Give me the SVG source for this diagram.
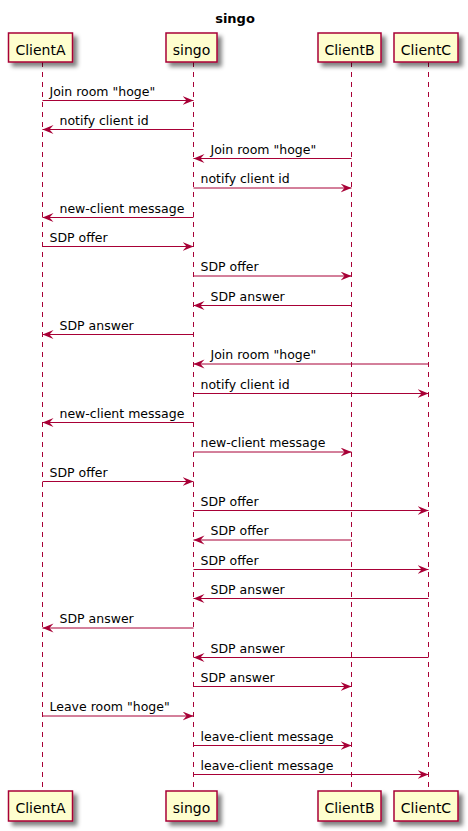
<svg xmlns="http://www.w3.org/2000/svg" width="468" height="831" viewBox="0 0 468 831">
<style>
.box{fill:#FEFECE;stroke:#A80036;stroke-width:1.5;filter:url(#sh)}
.life{stroke:#A80036;stroke-width:1;stroke-dasharray:5,5;fill:none}
.pt{font-family:"DejaVu Sans",sans-serif;font-size:14px;fill:#000;text-anchor:middle}
.msg{stroke:#A80036;stroke-width:1;fill:none;marker-end:url(#ah)}
.ml{font-family:"DejaVu Sans",sans-serif;font-size:12.5px;fill:#000}
.title{font-family:"DejaVu Sans",sans-serif;font-size:13px;font-weight:bold;fill:#000;text-anchor:middle}
</style>
<defs>
<filter id="sh" x="-20%" y="-30%" width="150%" height="180%">
<feGaussianBlur in="SourceAlpha" stdDeviation="2"/>
<feOffset dx="4" dy="4" result="b"/>
<feComponentTransfer><feFuncA type="linear" slope="0.5"/></feComponentTransfer>
<feMerge><feMergeNode/><feMergeNode in="SourceGraphic"/></feMerge>
</filter>
<marker id="ah" markerUnits="userSpaceOnUse" markerWidth="13" markerHeight="10" refX="11" refY="4.5" orient="auto">
<polygon points="0,0 11,4.5 0,9 4,4.5" fill="#A80036"/>
</marker>
</defs>
<rect width="468" height="831" fill="#fff"/>
<text class="title" x="235" y="23">singo</text>

<g id="ClientA">
<line class="life" x1="42.5" y1="62" x2="42.5" y2="791"/>
<rect class="box" x="8.5" y="33" width="64" height="29"/>
<text class="pt" x="40.5" y="54.5">ClientA</text>
<rect class="box" x="8.5" y="791" width="64" height="30"/>
<text class="pt" x="40.5" y="812.5">ClientA</text>
</g>
<g id="singo">
<line class="life" x1="193.5" y1="62" x2="193.5" y2="791"/>
<rect class="box" x="166" y="33" width="51" height="29"/>
<text class="pt" x="191.5" y="54.5">singo</text>
<rect class="box" x="166" y="791" width="51" height="30"/>
<text class="pt" x="191.5" y="812.5">singo</text>
</g>
<g id="ClientB">
<line class="life" x1="351.5" y1="62" x2="351.5" y2="791"/>
<rect class="box" x="318" y="33" width="63" height="29"/>
<text class="pt" x="349.5" y="54.5">ClientB</text>
<rect class="box" x="318" y="791" width="63" height="30"/>
<text class="pt" x="349.5" y="812.5">ClientB</text>
</g>
<g id="ClientC">
<line class="life" x1="428.5" y1="62" x2="428.5" y2="791"/>
<rect class="box" x="394" y="33" width="64" height="29"/>
<text class="pt" x="426" y="54.5">ClientC</text>
<rect class="box" x="394" y="791" width="64" height="30"/>
<text class="pt" x="426" y="812.5">ClientC</text>
</g>

<g id="connectors">
<line class="msg" x1="42.5" y1="100.5" x2="193.5" y2="100.5"/><text class="ml" x="49.5" y="95.5">Join room "hoge"</text>
<line class="msg" x1="193.5" y1="129.5" x2="42.5" y2="129.5"/><text class="ml" x="59.5" y="124.5">notify client id</text>
<line class="msg" x1="351.5" y1="158.5" x2="193.5" y2="158.5"/><text class="ml" x="210.5" y="153.5">Join room "hoge"</text>
<line class="msg" x1="193.5" y1="188" x2="351.5" y2="188"/><text class="ml" x="200.5" y="183">notify client id</text>
<line class="msg" x1="193.5" y1="217.5" x2="42.5" y2="217.5"/><text class="ml" x="59.5" y="212.5">new-client message</text>
<line class="msg" x1="42.5" y1="246.5" x2="193.5" y2="246.5"/><text class="ml" x="49.5" y="241.5">SDP offer</text>
<line class="msg" x1="193.5" y1="276" x2="351.5" y2="276"/><text class="ml" x="200.5" y="271">SDP offer</text>
<line class="msg" x1="351.5" y1="305.5" x2="193.5" y2="305.5"/><text class="ml" x="210.5" y="300.5">SDP answer</text>
<line class="msg" x1="193.5" y1="334.5" x2="42.5" y2="334.5"/><text class="ml" x="59.5" y="329.5">SDP answer</text>
<line class="msg" x1="428.5" y1="364" x2="193.5" y2="364"/><text class="ml" x="210.5" y="359">Join room "hoge"</text>
<line class="msg" x1="193.5" y1="393.5" x2="428.5" y2="393.5"/><text class="ml" x="200.5" y="388.5">notify client id</text>
<line class="msg" x1="193.5" y1="422.5" x2="42.5" y2="422.5"/><text class="ml" x="59.5" y="417.5">new-client message</text>
<line class="msg" x1="193.5" y1="452" x2="351.5" y2="452"/><text class="ml" x="200.5" y="447">new-client message</text>
<line class="msg" x1="42.5" y1="481.5" x2="193.5" y2="481.5"/><text class="ml" x="49.5" y="476.5">SDP offer</text>
<line class="msg" x1="193.5" y1="510.5" x2="428.5" y2="510.5"/><text class="ml" x="200.5" y="505.5">SDP offer</text>
<line class="msg" x1="351.5" y1="540" x2="193.5" y2="540"/><text class="ml" x="210.5" y="535">SDP offer</text>
<line class="msg" x1="193.5" y1="569.5" x2="428.5" y2="569.5"/><text class="ml" x="200.5" y="564.5">SDP offer</text>
<line class="msg" x1="428.5" y1="598.5" x2="193.5" y2="598.5"/><text class="ml" x="210.5" y="593.5">SDP answer</text>
<line class="msg" x1="193.5" y1="628" x2="42.5" y2="628"/><text class="ml" x="59.5" y="623">SDP answer</text>
<line class="msg" x1="428.5" y1="657.5" x2="193.5" y2="657.5"/><text class="ml" x="210.5" y="652.5">SDP answer</text>
<line class="msg" x1="193.5" y1="686.5" x2="351.5" y2="686.5"/><text class="ml" x="200.5" y="681.5">SDP answer</text>
<line class="msg" x1="42.5" y1="716" x2="193.5" y2="716"/><text class="ml" x="49.5" y="711">Leave room "hoge"</text>
<line class="msg" x1="193.5" y1="745.5" x2="351.5" y2="745.5"/><text class="ml" x="200.5" y="740.5">leave-client message</text>
<line class="msg" x1="193.5" y1="774.5" x2="428.5" y2="774.5"/><text class="ml" x="200.5" y="769.5">leave-client message</text>
</g>
</svg>
